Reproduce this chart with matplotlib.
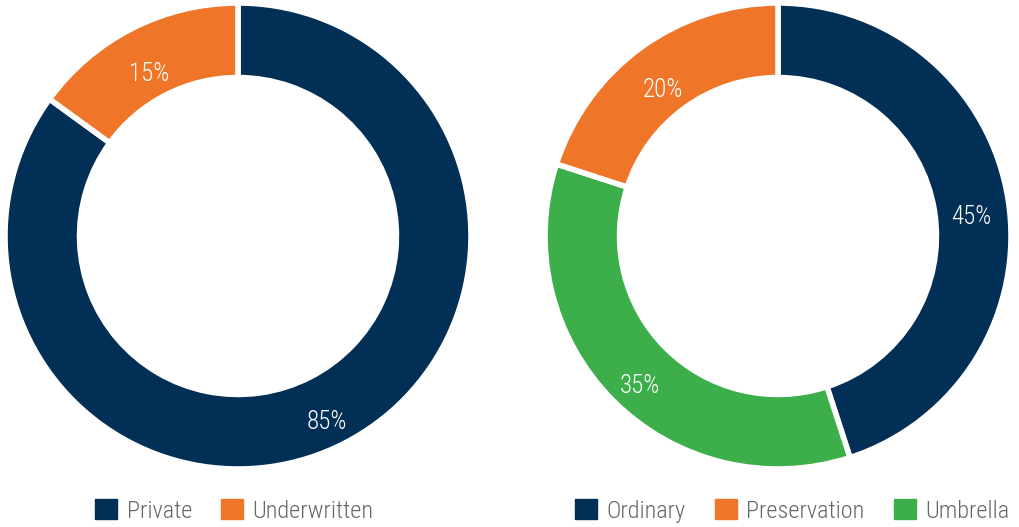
import matplotlib
matplotlib.use('Agg')
from matplotlib import pyplot as plt
from matplotlib.patches import Patch

plt.rcParams['font.family'] = ['Roboto Condensed', 'Liberation Sans Narrow', 'Roboto', 'DejaVu Sans']

navy = '#012f55'
orange = '#ef7628'
green = '#3daf4a'

left_labels = ['Private', 'Underwritten']
left_values = [85, 15]
left_colors = [navy, orange]

right_labels = ['Ordinary', 'Umbrella', 'Preservation']
right_values = [45, 35, 20]
right_colors = [navy, green, orange]
right_legend = ['Ordinary', 'Preservation', 'Umbrella']

W, H = 1019, 527
fig = plt.figure(figsize=(W / 100, H / 100), dpi=100)

def donut(cx, cy, r, values, colors):
    ax = fig.add_axes([(cx - r) / W, (H - cy - r) / H, 2 * r / W, 2 * r / H])
    wedges, texts, autotexts = ax.pie(
        values, colors=colors, startangle=90, counterclock=False, radius=1,
        autopct='%d%%', pctdistance=0.84,
        wedgeprops=dict(width=0.32, edgecolor='white', linewidth=4),
        textprops=dict(color='white', fontsize=18, fontweight='light'))
    for t in autotexts:
        t.set_verticalalignment('top')
    ax.set_xlim(-1, 1)
    ax.set_ylim(-1, 1)
    ax.set_aspect('equal')
    ax.axis('off')
    return ax

ax1 = donut(238, 236, 233, left_values, left_colors)
ax2 = donut(778, 236, 233, right_values, right_colors)

legend_kw = dict(loc='center left', frameon=False, labelcolor='#666666',
                 prop=dict(size=17.5, weight='light'), borderpad=0, borderaxespad=0,
                 handlelength=0.9, handleheight=0.9, handletextpad=0.4,
                 columnspacing=1.2)

h1 = [Patch(color=c) for c in left_colors]
fig.legend(h1, left_labels, ncol=2, bbox_to_anchor=(95 / W, 1 - 511 / H), **legend_kw)

cmap = dict(zip(right_labels, right_colors))
h2 = [Patch(color=cmap[l]) for l in right_legend]
fig.legend(h2, right_legend, ncol=3, bbox_to_anchor=(575 / W, 1 - 511 / H), **legend_kw)

fig.savefig('out.png', dpi=100, facecolor='white')
